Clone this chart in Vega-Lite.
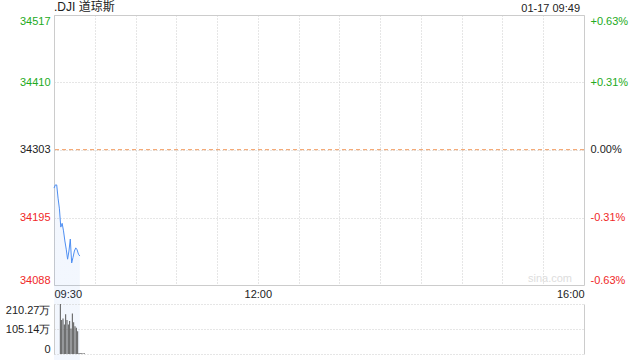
{
  "$schema": "https://vega.github.io/schema/vega-lite/v6.json",
  "padding": {"left": 5, "top": 0, "right": 5, "bottom": 2},
  "background": "white",
  "config": {
    "font": "Liberation Sans",
    "axis": {"labelFont": "Liberation Sans", "labelFontSize": 11, "labelColor": "#222", "gridColor": "#cccccc", "gridDash": [1, 2], "gridWidth": 1, "ticks": false, "title": null}
  },
  "datasets": {
    "price": [
      {"time": "2023-01-17T09:30:00", "price": 34242},
      {"time": "2023-01-17T09:31:00", "price": 34247},
      {"time": "2023-01-17T09:32:00", "price": 34247},
      {"time": "2023-01-17T09:33:00", "price": 34226},
      {"time": "2023-01-17T09:34:00", "price": 34209},
      {"time": "2023-01-17T09:35:00", "price": 34180},
      {"time": "2023-01-17T09:36:00", "price": 34186},
      {"time": "2023-01-17T09:37:00", "price": 34174},
      {"time": "2023-01-17T09:38:00", "price": 34158},
      {"time": "2023-01-17T09:39:00", "price": 34145},
      {"time": "2023-01-17T09:40:00", "price": 34129},
      {"time": "2023-01-17T09:41:00", "price": 34142},
      {"time": "2023-01-17T09:42:00", "price": 34161},
      {"time": "2023-01-17T09:43:00", "price": 34123},
      {"time": "2023-01-17T09:44:00", "price": 34132},
      {"time": "2023-01-17T09:45:00", "price": 34142},
      {"time": "2023-01-17T09:46:00", "price": 34147},
      {"time": "2023-01-17T09:47:00", "price": 34144},
      {"time": "2023-01-17T09:48:00", "price": 34137},
      {"time": "2023-01-17T09:49:00", "price": 34134}
    ],
    "volume": [
      {"time": "2023-01-17T09:31:00", "volume": 2102700},
      {"time": "2023-01-17T09:32:00", "volume": 1430000},
      {"time": "2023-01-17T09:33:00", "volume": 1490000},
      {"time": "2023-01-17T09:34:00", "volume": 1240000},
      {"time": "2023-01-17T09:35:00", "volume": 1670000},
      {"time": "2023-01-17T09:36:00", "volume": 1430000},
      {"time": "2023-01-17T09:37:00", "volume": 1240000},
      {"time": "2023-01-17T09:38:00", "volume": 1390000},
      {"time": "2023-01-17T09:39:00", "volume": 1070000},
      {"time": "2023-01-17T09:40:00", "volume": 1700000},
      {"time": "2023-01-17T09:41:00", "volume": 1340000},
      {"time": "2023-01-17T09:42:00", "volume": 1170000},
      {"time": "2023-01-17T09:43:00", "volume": 1100000},
      {"time": "2023-01-17T09:44:00", "volume": 960000},
      {"time": "2023-01-17T09:45:00", "volume": 40000},
      {"time": "2023-01-17T09:46:00", "volume": 30000},
      {"time": "2023-01-17T09:47:00", "volume": 30000},
      {"time": "2023-01-17T09:48:00", "volume": 30000},
      {"time": "2023-01-17T09:49:00", "volume": 30000}
    ],
    "labels": [
      {"title": ".DJI 道琼斯", "stamp": "01-17 09:49", "mark": "sina.com"}
    ]
  },
  "bounds": "flush",
  "spacing": 19,
  "vconcat": [
    {
      "width": 530,
      "height": 270,
      "view": {"stroke": "#cccccc"},
      "resolve": {"axis": {"y": "independent"}},
      "layer": [
        {
          "data": {"name": "price"},
          "mark": {"type": "area", "color": {"gradient": "linear", "x1": 0, "y1": 0, "x2": 0, "y2": 1, "stops": [{"offset": 0, "color": "rgba(80,140,240,0.07)"}, {"offset": 1, "color": "rgba(80,140,240,0.0)"}]}},
          "encoding": {
            "x": {"field": "time", "type": "temporal",
              "scale": {"domain": [{"year": 2023, "month": 1, "date": 17, "hours": 9, "minutes": 30}, {"year": 2023, "month": 1, "date": 17, "hours": 16, "minutes": 0}]},
              "axis": {"orient": "bottom", "domain": false, "labelFlush": true, "labelPadding": 3,
                "values": [
                  {"year": 2023, "month": 1, "date": 17, "hours": 9, "minutes": 30},
                  {"year": 2023, "month": 1, "date": 17, "hours": 10, "minutes": 0},
                  {"year": 2023, "month": 1, "date": 17, "hours": 10, "minutes": 30},
                  {"year": 2023, "month": 1, "date": 17, "hours": 11, "minutes": 0},
                  {"year": 2023, "month": 1, "date": 17, "hours": 11, "minutes": 30},
                  {"year": 2023, "month": 1, "date": 17, "hours": 12, "minutes": 0},
                  {"year": 2023, "month": 1, "date": 17, "hours": 12, "minutes": 30},
                  {"year": 2023, "month": 1, "date": 17, "hours": 13, "minutes": 0},
                  {"year": 2023, "month": 1, "date": 17, "hours": 13, "minutes": 30},
                  {"year": 2023, "month": 1, "date": 17, "hours": 14, "minutes": 0},
                  {"year": 2023, "month": 1, "date": 17, "hours": 14, "minutes": 30},
                  {"year": 2023, "month": 1, "date": 17, "hours": 15, "minutes": 0},
                  {"year": 2023, "month": 1, "date": 17, "hours": 15, "minutes": 30},
                  {"year": 2023, "month": 1, "date": 17, "hours": 16, "minutes": 0}
                ],
                "labelExpr": "indexof(['09:30','12:00','16:00'], timeFormat(datum.value, '%H:%M')) >= 0 ? timeFormat(datum.value, '%H:%M') : ''"}},
            "y": {"field": "price", "type": "quantitative",
              "scale": {"domain": [34088, 34517], "zero": false, "nice": false},
              "axis": {"orient": "left", "domain": false, "labelFlush": true, "labelPadding": 4, "format": "d",
                "values": [34088, 34195, 34303, 34410, 34517],
                "labelColor": {"condition": [{"test": "datum.value > 34303", "value": "#22aa22"}, {"test": "datum.value < 34303", "value": "#f02828"}], "value": "#222222"}}}
          }
        },
        {
          "data": {"name": "price"},
          "mark": {"type": "line", "color": "#4d8ef2", "strokeWidth": 1},
          "encoding": {
            "x": {"field": "time", "type": "temporal"},
            "y": {"field": "price", "type": "quantitative", "axis": null}
          }
        },
        {
          "data": {"name": "labels"},
          "mark": {"type": "rule", "color": "#f29a5e", "strokeDash": [4, 3], "strokeWidth": 1},
          "encoding": {
            "y": {"datum": 34303, "type": "quantitative",
              "axis": {"orient": "right", "domain": false, "grid": false, "labelFlush": true, "labelPadding": 6,
                "values": [34088, 34195, 34303, 34410, 34517],
                "labelExpr": "datum.value == 34517 ? '+0.63%' : datum.value == 34410 ? '+0.31%' : datum.value == 34303 ? '0.00%' : datum.value == 34195 ? '-0.31%' : '-0.63%'",
                "labelColor": {"condition": [{"test": "datum.value > 34303", "value": "#22aa22"}, {"test": "datum.value < 34303", "value": "#f02828"}], "value": "#222222"}}}
          }
        },
        {
          "data": {"name": "labels"},
          "mark": {"type": "text", "align": "left", "baseline": "bottom", "dy": -1, "fontSize": 12, "font": "Liberation Sans, Noto Sans CJK SC", "color": "#222"},
          "encoding": {
            "text": {"field": "title"},
            "x": {"datum": {"year": 2023, "month": 1, "date": 17, "hours": 9, "minutes": 30}, "type": "temporal"},
            "y": {"datum": 34517, "type": "quantitative", "axis": null}
          }
        },
        {
          "data": {"name": "labels"},
          "mark": {"type": "text", "align": "right", "baseline": "bottom", "dy": -1, "dx": -4, "fontSize": 11, "color": "#222"},
          "encoding": {
            "text": {"field": "stamp"},
            "x": {"datum": {"year": 2023, "month": 1, "date": 17, "hours": 16, "minutes": 0}, "type": "temporal"},
            "y": {"datum": 34517, "type": "quantitative", "axis": null}
          }
        },
        {
          "data": {"name": "labels"},
          "mark": {"type": "text", "align": "right", "baseline": "bottom", "dy": -1, "dx": -12, "fontSize": 11, "color": "#dddddd"},
          "encoding": {
            "text": {"field": "mark"},
            "x": {"datum": {"year": 2023, "month": 1, "date": 17, "hours": 16, "minutes": 0}, "type": "temporal"},
            "y": {"datum": 34088, "type": "quantitative", "axis": null}
          }
        }
      ]
    },
    {
      "width": 530,
      "height": 50,
      "view": {"stroke": null},
      "data": {"name": "volume"},
      "resolve": {"axis": {"y": "independent"}},
      "layer": [
        {
          "mark": {"type": "bar", "color": "#555555", "size": 1},
          "encoding": {
            "x": {"field": "time", "type": "temporal",
              "scale": {"domain": [{"year": 2023, "month": 1, "date": 17, "hours": 9, "minutes": 30}, {"year": 2023, "month": 1, "date": 17, "hours": 16, "minutes": 0}]},
              "axis": null},
            "y": {"field": "volume", "type": "quantitative",
              "scale": {"domain": [0, 2102700], "nice": false},
              "axis": {"orient": "left", "domain": true, "domainColor": "#cccccc", "labelFlush": true, "labelPadding": 4,
                "values": [0, 1051350, 2102700],
                "labelExpr": "datum.value == 0 ? '0' : datum.value > 2000000 ? '210.27万' : '105.14万'"}}
          }
        },
        {
          "mark": {"type": "bar", "opacity": 0, "size": 1},
          "encoding": {
            "x": {"field": "time", "type": "temporal"},
            "y": {"field": "volume", "type": "quantitative",
              "axis": {"orient": "right", "domain": true, "domainColor": "#cccccc", "labels": false, "grid": false}}
          }
        }
      ]
    }
  ]
}
